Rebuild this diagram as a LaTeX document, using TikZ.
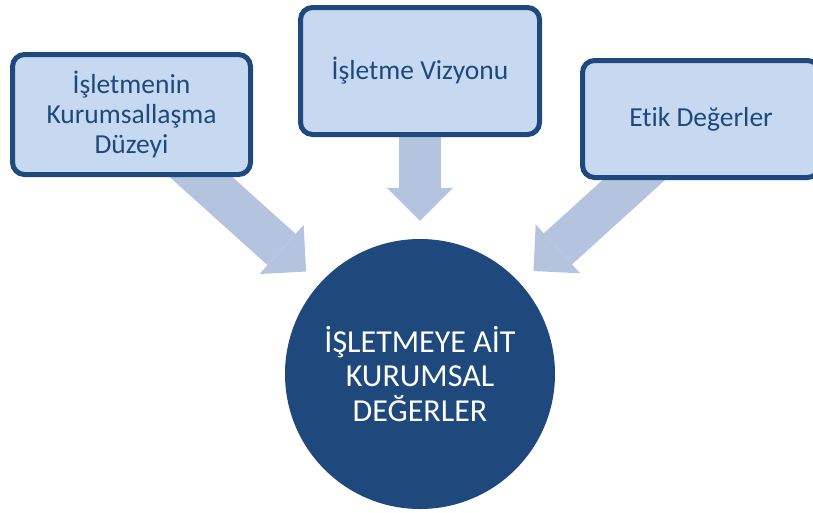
\documentclass[tikz,border=0pt]{standalone}
\usepackage{fontspec}
\setmainfont[Ligatures=NoCommon]{Carlito}
\usepackage{tikz}
\usetikzlibrary{arrows.meta, backgrounds}
\definecolor{kd_dark}{HTML}{1F497D}
\definecolor{kd_light}{HTML}{C6D9F1}
\definecolor{kd_arrow}{HTML}{B4C4DF}

\begin{document}
\begin{tikzpicture}[x=1pt, y=-1pt,
        kutu/.style={draw=kd_dark, fill=kd_light, line width=5pt, rounded corners=12pt,
            text=kd_dark, align=center, inner sep=0pt, font=\fontsize{27.5}{30}\selectfont},
        ok/.style={draw=kd_arrow, line width=42pt,
            -{Triangle[width=66pt, length=33pt, line width=0pt]}, shorten >=18pt}]
            \useasboundingbox (0,0) rectangle (813,512);

            \node[kutu, minimum width=238pt, minimum height=120pt] (kurum) at (131.5, 114.5) {İşletmenin\\Kurumsallaşma\\Düzeyi};
            \node[kutu, minimum width=239pt, minimum height=127pt] (vizyon) at (420, 71) {İşletme Vizyonu};
            \node[kutu, minimum width=237pt, minimum height=117pt] (etik) at (701, 119) {Etik Değerler};

            \node[circle, fill=kd_dark, minimum size=270pt, inner sep=0pt, text=white, align=center,
                font=\fontsize{32}{34.5}\selectfont] (deger) at (420, 374) {İŞLETMEYE AİT\\KURUMSAL\\DEĞERLER};

            % arrows behind the boxes
            \begin{scope}[on background layer]
                \draw[ok] (kurum.center) -- (deger);
                \draw[ok] (vizyon.center) -- (deger);
                \draw[ok] (etik.center) -- (deger);
            \end{scope}

        \end{tikzpicture}
\end{document}
